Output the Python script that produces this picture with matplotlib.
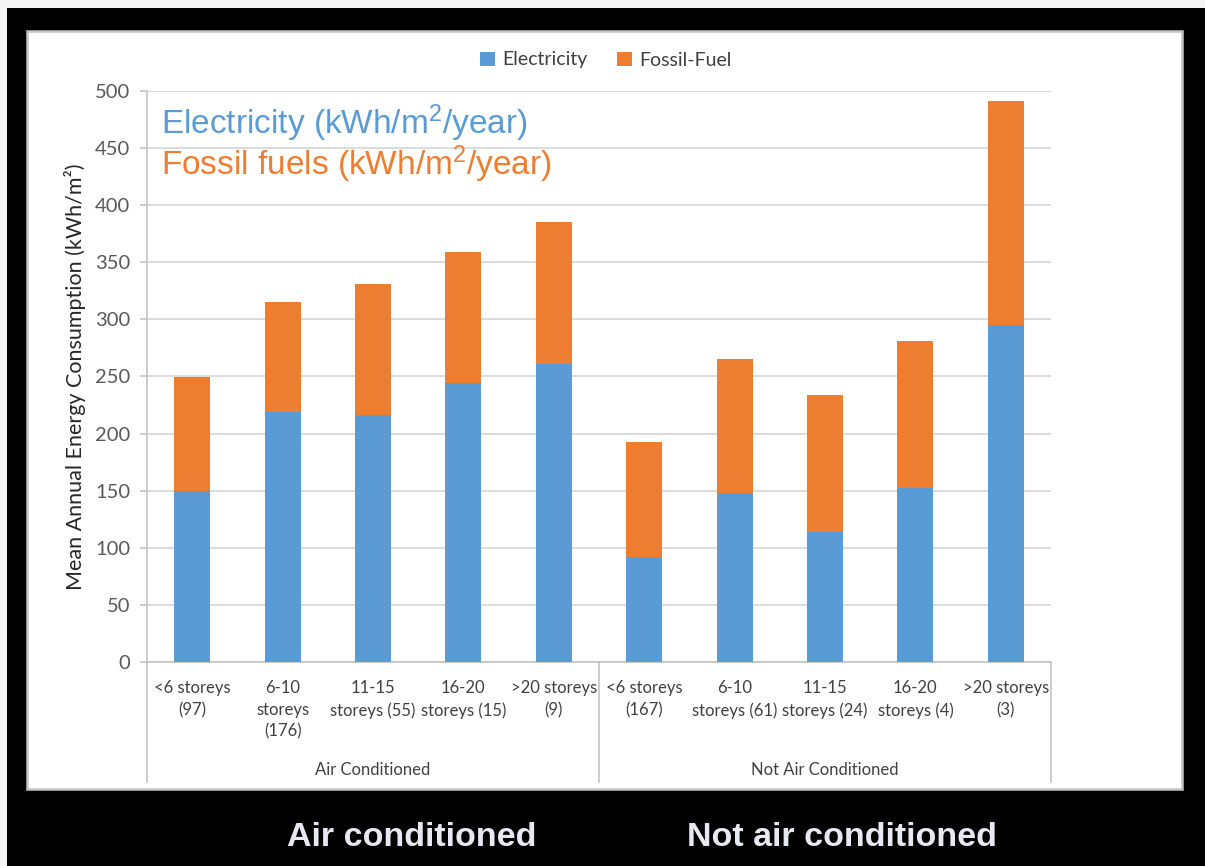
import numpy as np
import matplotlib
matplotlib.use("Agg")
import matplotlib.pyplot as plt
import matplotlib.transforms as mtransforms
from matplotlib.patches import Rectangle

# ---- data ----
categories = [
    "<6 storeys\n(97)", "6-10\nstoreys\n(176)", "11-15\nstoreys (55)",
    "16-20\nstoreys (15)", ">20 storeys\n(9)",
    "<6 storeys\n(167)", "6-10\nstoreys (61)", "11-15\nstoreys (24)",
    "16-20\nstoreys (4)", ">20 storeys\n(3)",
]
groups = ["Air Conditioned", "Not Air Conditioned"]
electricity = [150, 219, 216, 244, 261, 92, 148, 114, 152, 295]
fossil_fuel = [100, 96, 115, 115, 124, 101, 117, 120, 129, 196]
y_ticks = [0, 50, 100, 150, 200, 250, 300, 350, 400, 450, 500]
footer = ["Air conditioned", "Not air conditioned"]

plt.rcParams["font.family"] = ["Lato", "DejaVu Sans"]
plt.rcParams["mathtext.fontset"] = "custom"
plt.rcParams["mathtext.rm"] = "Liberation Sans"
plt.rcParams["mathtext.it"] = "Liberation Sans:italic"

BLUE = "#5B9BD5"
ORANGE = "#ED7D31"
GRID = "#D9D9D9"
AXIS = "#BFBFBF"
TXT = "#404040"

W, H = 1205, 866
fig = plt.figure(figsize=(W / 100, H / 100), dpi=100, facecolor="black")

# thin light strips along the top and left edge
fig.add_artist(Rectangle((0, 1 - 8 / H), 1, 8 / H, transform=fig.transFigure,
                         facecolor="#f4f4f4", edgecolor="none", zorder=0))
fig.add_artist(Rectangle((0, 0), 7 / W, 1, transform=fig.transFigure,
                         facecolor="#f4f4f4", edgecolor="none", zorder=0))

# white chart panel
fig.add_artist(Rectangle((27 / W, 1 - 789 / H), (1182 - 27) / W, (789 - 31) / H,
                         transform=fig.transFigure, facecolor="white",
                         edgecolor="#c4c4c4", lw=1.8, zorder=0))

ax = fig.add_axes([147 / W, 1 - 662 / H, 904 / W, 571 / H])
ax.set_facecolor("white")

x = np.arange(len(categories))
ax.bar(x, electricity, 0.4, color=BLUE, label="Electricity", zorder=3)
ax.bar(x, fossil_fuel, 0.4, bottom=electricity, color=ORANGE,
       label="Fossil-Fuel", zorder=3)

ax.set_xlim(-0.5, len(categories) - 0.5)
ax.set_ylim(0, 500)
ax.set_yticks(y_ticks)
ax.yaxis.grid(True, color=GRID, lw=1.3, zorder=0)
ax.set_axisbelow(True)

for s in ("top", "right"):
    ax.spines[s].set_visible(False)
ax.spines["left"].set_color(AXIS)
ax.spines["bottom"].set_color(AXIS)
ax.spines["left"].set_linewidth(1.1)
ax.spines["bottom"].set_linewidth(1.1)

ax.tick_params(axis="y", length=5, color=AXIS, width=1.1, pad=7,
               labelsize=14.5, labelcolor="#595959")
ax.set_xticks(x)
ax.set_xticklabels(categories, fontsize=12, color=TXT, linespacing=1.45)
ax.tick_params(axis="x", length=0, pad=13)

# category group separators and labels
trans = mtransforms.blended_transform_factory(ax.transData, ax.transAxes)
sep_bottom = -(782 - 662) / 571
for xb in (-0.5, 4.5, 9.5):
    ax.plot([xb, xb], [0, sep_bottom], transform=trans, color=AXIS,
            lw=1.1, clip_on=False)
for i, g in enumerate(groups):
    ax.text(2 + 5 * i, -(770 - 662) / 571, g, transform=trans,
            ha="center", va="center", fontsize=12, color=TXT)

ax.text((75 - 147) / 904, 0.5, "Mean Annual Energy Consumption (kWh/m²)",
        transform=ax.transAxes, rotation=90, ha="center", va="center",
        fontsize=15.5, color="#262626")

# large in-plot annotations
ax.text(0.0155, (662 - 134) / 571, r"Electricity (kWh/m$^{\mathrm{2}}$/year)",
        transform=ax.transAxes, ha="left", va="baseline", fontsize=24,
        family="Liberation Sans", color=BLUE)
ax.text(0.0155, (662 - 175) / 571, r"Fossil fuels (kWh/m$^{\mathrm{2}}$/year)",
        transform=ax.transAxes, ha="left", va="baseline", fontsize=24,
        family="Liberation Sans", color=ORANGE)

fig.legend(loc="center", bbox_to_anchor=(606 / W, 1 - 60 / H), ncol=2,
           frameon=False, fontsize=14, handlelength=0.75, handleheight=0.75,
           handletextpad=0.4, columnspacing=1.5, labelcolor=TXT)

# footer captions on the dark background
fig.text(412 / W, 1 - 838 / H, footer[0], ha="center", va="center",
         fontsize=24.5, fontweight="bold", family="Liberation Sans",
         color="#E8E8F2")
fig.text(842 / W, 1 - 838 / H, footer[1], ha="center", va="center",
         fontsize=24.5, fontweight="bold", family="Liberation Sans",
         color="#E8E8F2")

fig.savefig("out.png", dpi=100, facecolor=fig.get_facecolor())
